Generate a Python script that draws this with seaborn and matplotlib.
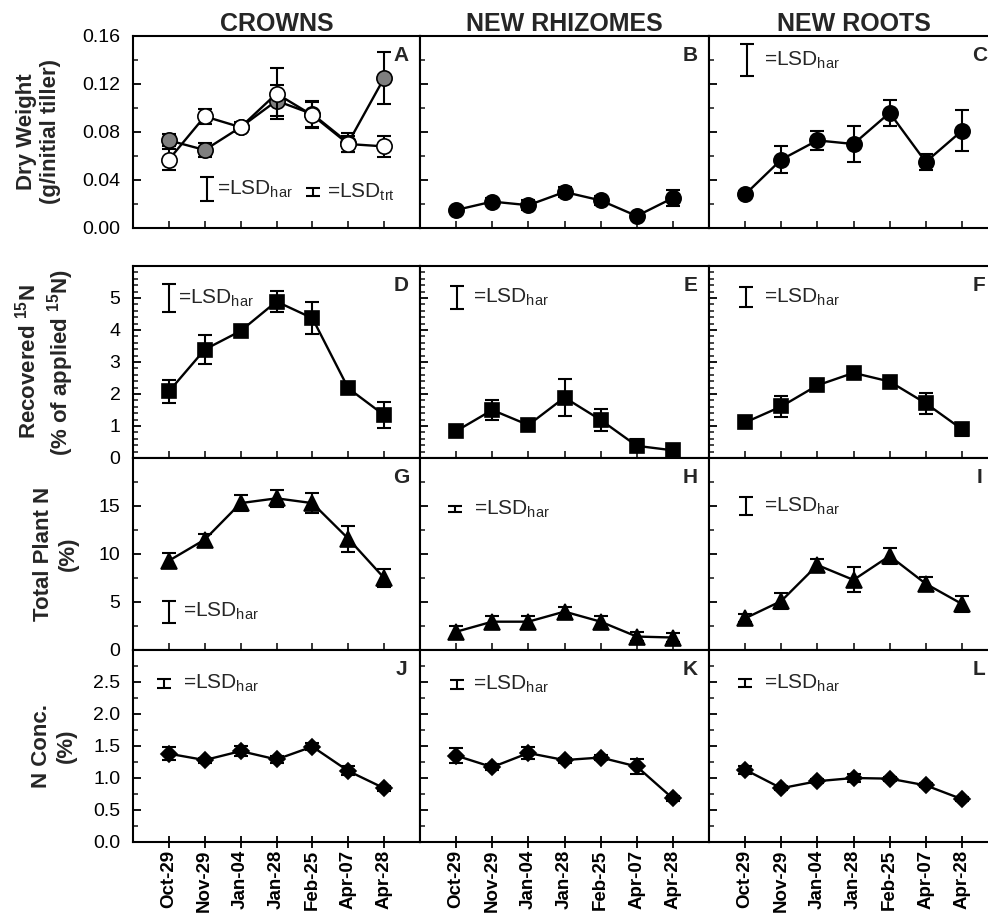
import numpy as np
import pandas as pd
import matplotlib
matplotlib.use("Agg")
import matplotlib.pyplot as plt
import seaborn as sns
from matplotlib.ticker import MultipleLocator, FixedLocator, FormatStrFormatter

# ---------------- data ----------------
DATES = ["Oct-29", "Nov-29", "Jan-04", "Jan-28", "Feb-25", "Apr-07", "Apr-28"]
COLUMN_TITLES = ["CROWNS", "NEW RHIZOMES", "NEW ROOTS"]
PANEL_LETTERS = ["A", "B", "C", "D", "E", "F", "G", "H", "I", "J", "K", "L"]

# Dry weight (g / initial tiller)
dw_crown_trt = [0.073, 0.065, 0.084, 0.106, 0.095, 0.071, 0.125]
dw_crown_trt_err = [0.005, 0.006, 0.003, 0.013, 0.011, 0.008, 0.022]
dw_crown_ctl = [0.057, 0.093, 0.084, 0.112, 0.094, 0.070, 0.068]
dw_crown_ctl_err = [0.009, 0.006, 0.004, 0.021, 0.011, 0.007, 0.009]
dw_rhiz = [0.015, 0.022, 0.019, 0.030, 0.023, 0.010, 0.025]
dw_rhiz_err = [0.002, 0.003, 0.004, 0.004, 0.004, 0.002, 0.007]
dw_root = [0.028, 0.057, 0.073, 0.070, 0.096, 0.055, 0.081]
dw_root_err = [0.003, 0.011, 0.008, 0.015, 0.011, 0.007, 0.017]

# Recovered 15N (% of applied 15N)
rec_crown = [2.08, 3.39, 3.97, 4.89, 4.37, 2.18, 1.34]
rec_crown_err = [0.37, 0.45, 0.12, 0.34, 0.49, 0.12, 0.40]
rec_rhiz = [0.84, 1.50, 1.03, 1.89, 1.19, 0.38, 0.24]
rec_rhiz_err = [0.10, 0.30, 0.10, 0.58, 0.35, 0.20, 0.10]
rec_root = [1.11, 1.61, 2.27, 2.66, 2.39, 1.71, 0.90]
rec_root_err = [0.10, 0.33, 0.10, 0.15, 0.10, 0.32, 0.20]

# Total plant N (%)
tpn_crown = [9.3, 11.5, 15.3, 15.8, 15.3, 11.6, 7.5]
tpn_crown_err = [0.8, 0.6, 0.8, 0.9, 1.05, 1.35, 0.9]
tpn_rhiz = [1.9, 2.95, 2.95, 4.0, 2.95, 1.4, 1.3]
tpn_rhiz_err = [0.6, 0.55, 0.55, 0.5, 0.55, 0.5, 0.5]
tpn_root = [3.3, 5.1, 8.85, 7.3, 9.8, 6.9, 4.8]
tpn_root_err = [0.4, 0.8, 0.6, 1.3, 0.8, 0.7, 0.8]

# N concentration (%)
nc_crown = [1.38, 1.28, 1.42, 1.29, 1.49, 1.11, 0.84]
nc_crown_err = [0.10, 0.04, 0.08, 0.05, 0.05, 0.07, 0.04]
nc_rhiz = [1.35, 1.17, 1.39, 1.28, 1.32, 1.18, 0.68]
nc_rhiz_err = [0.12, 0.05, 0.09, 0.04, 0.04, 0.11, 0.04]
nc_root = [1.13, 0.84, 0.95, 1.00, 0.99, 0.885, 0.67]
nc_root_err = [0.06, 0.03, 0.03, 0.07, 0.03, 0.03, 0.03]

# LSD bar lengths per panel (None = no LSD shown)
lsd_har = [0.020, None, 0.0266, 0.86, 0.73, 0.65, 2.3, 0.6, 1.94, 0.146, 0.14, 0.12]
lsd_trt_crown_dw = 0.007

# ---------------- style ----------------
sns.set_theme(style="ticks")
plt.rcParams["font.family"] = ["Liberation Sans", "DejaVu Sans"]
plt.rcParams["mathtext.fontset"] = "custom"
plt.rcParams["mathtext.rm"] = "Liberation Sans"
plt.rcParams["mathtext.it"] = "Liberation Sans:italic"
plt.rcParams["mathtext.bf"] = "Liberation Sans:bold"

W, H = 988, 917
fig = plt.figure(figsize=(W / 100, H / 100), dpi=100)
fig.patch.set_facecolor("white")

col_left = [133, 420, 709]
col_w = [287, 289, 289]
row_top = [36, 266, 458, 650]
row_h = 192

ROW_SPECS = [
    dict(ylim=(0, 0.16), major=np.arange(0, 0.161, 0.04), minor=0.02, fmt="%.2f",
         label="Dry Weight\n(g/initial tiller)", lx=-0.328),
    dict(ylim=(0, 6), major=np.arange(0, 6, 1), minor=0.2, fmt="%d",
         label="Recovered $^{\\mathbf{15}}$N\n(% of applied $^{\\mathbf{15}}$N)", lx=-0.307),
    dict(ylim=(0, 20), major=np.arange(0, 20, 5), minor=2.5, fmt="%d",
         label="Total Plant N\n(%)", lx=-0.268),
    dict(ylim=(0, 3), major=np.arange(0, 2.51, 0.5), minor=0.25, fmt="%.1f",
         label="N Conc.\n(%)", lx=-0.275),
]

series = [
    [(dw_crown_trt, dw_crown_trt_err), (dw_rhiz, dw_rhiz_err), (dw_root, dw_root_err)],
    [(rec_crown, rec_crown_err), (rec_rhiz, rec_rhiz_err), (rec_root, rec_root_err)],
    [(tpn_crown, tpn_crown_err), (tpn_rhiz, tpn_rhiz_err), (tpn_root, tpn_root_err)],
    [(nc_crown, nc_crown_err), (nc_rhiz, nc_rhiz_err), (nc_root, nc_root_err)],
]
row_markers = [("o", 11), ("s", 10.5), ("^", 11.5), ("D", 8)]

# LSD key placement: (bar x, bar centre y, text x)
lsd_place = [
    (1.05, 0.0324, 1.33), None, (0.05, 0.140, 0.53),
    (0.0, 5.0, 0.25), (0.02, 5.02, 0.47), (0.03, 5.03, 0.53),
    (0.0, 4.0, 0.39), (-0.03, 14.7, 0.50), (0.03, 15.0, 0.53),
    (-0.14, 2.48, 0.39), (0.02, 2.46, 0.47), (0.0, 2.48, 0.53),
]

pos = np.arange(len(DATES))


def draw_series(ax, vals, errs, marker, ms, face="black", z=3):
    df = pd.DataFrame({"pos": pos, "val": vals})
    ax.errorbar(df["pos"], df["val"], yerr=errs, fmt="none", ecolor="black",
                elinewidth=1.5, capsize=5, capthick=1.5, zorder=z)
    sns.lineplot(data=df, x="pos", y="val", ax=ax, color="black", linewidth=1.7,
                 marker=marker, markersize=ms, markerfacecolor=face,
                 markeredgecolor="black", markeredgewidth=1.2, sort=False,
                 legend=False, zorder=z + 0.5)


def lsd_key(ax, x, yc, length, tx, sub):
    ax.errorbar([x], [yc], yerr=[length / 2], fmt="none", ecolor="black",
                elinewidth=1.5, capsize=5, capthick=1.5, zorder=5)
    ax.text(tx, yc, "=LSD$_{\\mathrm{" + sub + "}}$", fontsize=15,
            ha="left", va="center", zorder=5)


for r in range(4):
    spec = ROW_SPECS[r]
    for c in range(3):
        idx = r * 3 + c
        left = col_left[c] / W
        bottom = 1 - (row_top[r] + row_h) / H
        ax = fig.add_axes([left, bottom, col_w[c] / W, row_h / H])
        ax.set_facecolor("white")
        ax.set_xlim(-1, 7)
        ax.set_ylim(*spec["ylim"])

        marker, ms = row_markers[r]
        if r == 0 and c == 0:
            draw_series(ax, dw_crown_trt, dw_crown_trt_err, marker, ms, face="#7f7f7f", z=3)
            draw_series(ax, dw_crown_ctl, dw_crown_ctl_err, marker, ms, face="white", z=4)
        else:
            vals, errs = series[r][c]
            draw_series(ax, vals, errs, marker, ms)

        # LSD keys
        if lsd_har[idx] is not None:
            bx, by, tx = lsd_place[idx]
            lsd_key(ax, bx, by, lsd_har[idx], tx, "har")
        if idx == 0:
            lsd_key(ax, 4.01, 0.030, lsd_trt_crown_dw, 4.42, "trt")

        # axes styling
        for s in ax.spines.values():
            s.set_linewidth(1.5)
            s.set_color("black")
        ax.yaxis.set_major_locator(FixedLocator(spec["major"]))
        ax.yaxis.set_minor_locator(MultipleLocator(spec["minor"]))
        ax.yaxis.set_major_formatter(FormatStrFormatter(spec["fmt"]))
        ax.tick_params(axis="y", which="major", direction="in", length=6, width=1.3,
                       labelsize=14, pad=9, left=True, right=False,
                       labelleft=(c == 0), colors="black")
        ax.tick_params(axis="y", which="minor", direction="in", length=3.5, width=1.2,
                       left=True, right=False)
        ax.set_xticks(pos)
        if r == 3:
            ax.set_xticklabels(DATES, rotation=90, fontsize=13.5, fontweight="bold")
            ax.tick_params(axis="x", which="major", direction="inout", length=9,
                           width=1.3, pad=1, bottom=True, top=False, colors="black")
        else:
            ax.set_xticklabels([])
            ax.tick_params(axis="x", which="major", direction="in", length=5,
                           width=1.3, bottom=True, top=False)
        ax.set_xlabel("")
        ax.set_ylabel("")

        ax.text(0.935, 0.90, PANEL_LETTERS[idx], transform=ax.transAxes,
                fontsize=15, fontweight="bold", ha="center", va="center")

        if r == 0:
            ax.set_title(COLUMN_TITLES[c], fontsize=18, fontweight="bold", pad=3)
        if c == 0:
            ax.text(spec["lx"], 0.5, spec["label"], transform=ax.transAxes,
                    rotation=90, fontsize=16, fontweight="bold", ha="center",
                    va="center", multialignment="center", linespacing=1.2)

fig.savefig("out.png", dpi=100, facecolor="white")
